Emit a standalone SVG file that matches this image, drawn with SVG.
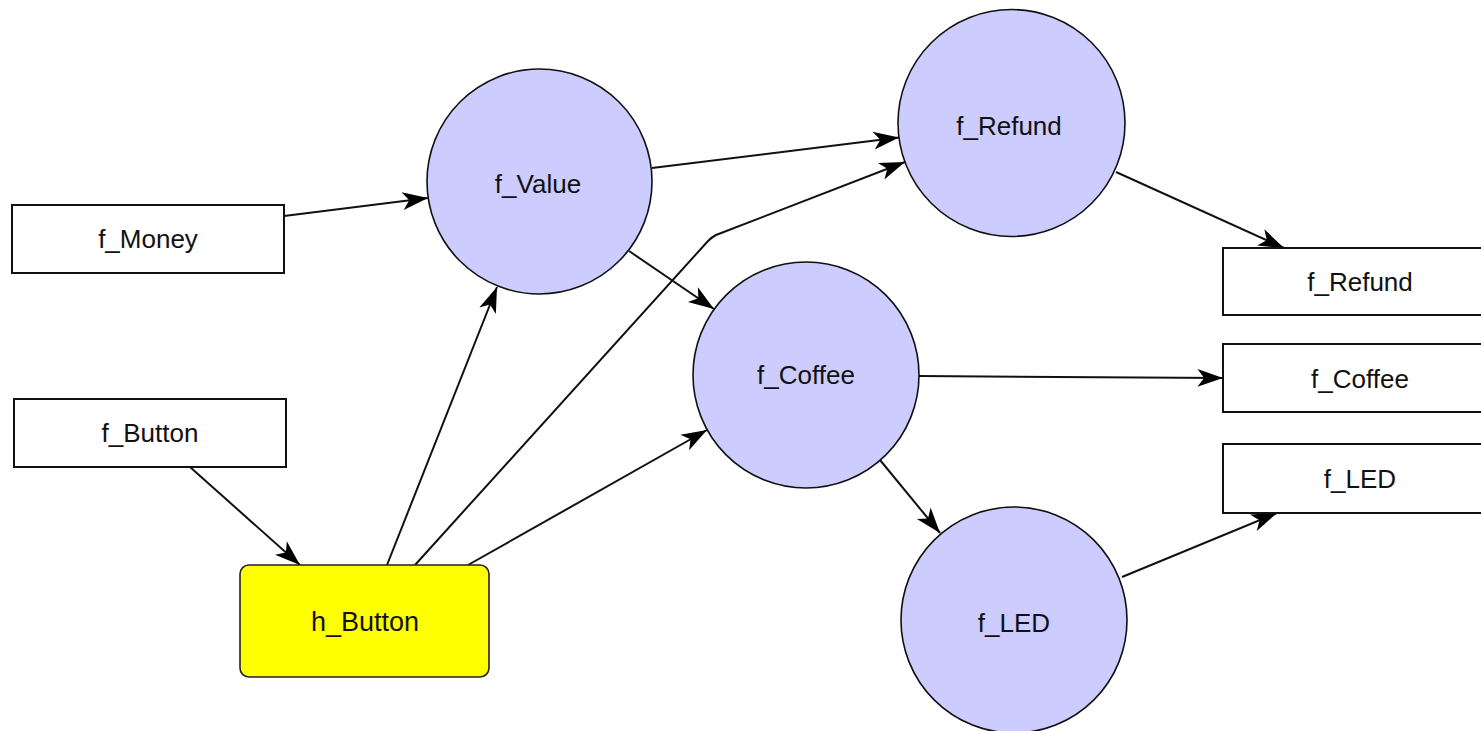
<svg xmlns="http://www.w3.org/2000/svg" width="1481" height="731" viewBox="0 0 1481 731">
<style>
.box{fill:#ffffff;stroke:#111;stroke-width:2}
.hw{fill:#ffff00;stroke:#222;stroke-width:1.6}
.fn{fill:#ccccff;stroke:#111;stroke-width:1.6}
.lbl{font-family:"Liberation Sans",Arial,sans-serif;font-size:26px;fill:#111;text-anchor:middle}
.edge{fill:none;stroke:#111;stroke-width:2}
</style>
<defs>
<marker id="arr" markerUnits="userSpaceOnUse" markerWidth="30" markerHeight="20" viewBox="-24 -9 26 18" refX="0" refY="0" orient="auto">
<path d="M0,0 L-23,-8 L-17,0 L-23,8 Z" fill="#000"/>
</marker>
</defs>
<rect width="1481" height="731" fill="#fff"/>
<g id="connectors">
<line class="edge" x1="284" y1="216" x2="428" y2="198" marker-end="url(#arr)"/>
<line class="edge" x1="190" y1="467" x2="300" y2="565" marker-end="url(#arr)"/>
<line class="edge" x1="387" y1="565" x2="497" y2="287" marker-end="url(#arr)"/>
<path class="edge" d="M415,565 L708,241 Q712,237 716,235 L905,162" marker-end="url(#arr)"/>
<line class="edge" x1="468" y1="565" x2="707" y2="430" marker-end="url(#arr)"/>
<line class="edge" x1="652" y1="168" x2="899" y2="137.5" marker-end="url(#arr)"/>
<line class="edge" x1="629" y1="251" x2="714" y2="309" marker-end="url(#arr)"/>
<line class="edge" x1="1116" y1="172" x2="1284" y2="248" marker-end="url(#arr)"/>
<line class="edge" x1="919" y1="376" x2="1223" y2="378" marker-end="url(#arr)"/>
<line class="edge" x1="880" y1="460" x2="940" y2="533" marker-end="url(#arr)"/>
<line class="edge" x1="1122" y1="577" x2="1277" y2="513" marker-end="url(#arr)"/>
</g>
<g id="n_f_Money"><rect class="box" x="12" y="205" width="272" height="68"/><text class="lbl" x="148" y="248">f_Money</text></g>
<g id="n_f_Button"><rect class="box" x="14" y="399" width="272" height="68"/><text class="lbl" x="150" y="442">f_Button</text></g>
<g id="n_h_Button"><rect class="hw" x="240" y="565" width="249" height="112" rx="9" ry="9"/><text class="lbl" x="365" y="631" style="font-size:27px">h_Button</text></g>
<g id="n_c_Value"><circle class="fn" cx="539.5" cy="181.5" r="112.5"/><text class="lbl" x="538" y="193">f_Value</text></g>
<g id="n_c_Refund"><circle class="fn" cx="1011.5" cy="123" r="113.5"/><text class="lbl" x="1009" y="135">f_Refund</text></g>
<g id="n_c_Coffee"><circle class="fn" cx="806" cy="375" r="113"/><text class="lbl" x="806" y="384">f_Coffee</text></g>
<g id="n_c_LED"><circle class="fn" cx="1014" cy="620" r="113"/><text class="lbl" x="1014" y="632">f_LED</text></g>
<g id="n_o_Refund"><rect class="box" x="1223" y="248" width="274" height="67"/><text class="lbl" x="1360" y="291">f_Refund</text></g>
<g id="n_o_Coffee"><rect class="box" x="1223" y="344" width="274" height="68"/><text class="lbl" x="1360" y="388">f_Coffee</text></g>
<g id="n_o_LED"><rect class="box" x="1223" y="444" width="274" height="69"/><text class="lbl" x="1360" y="488">f_LED</text></g>
</svg>
